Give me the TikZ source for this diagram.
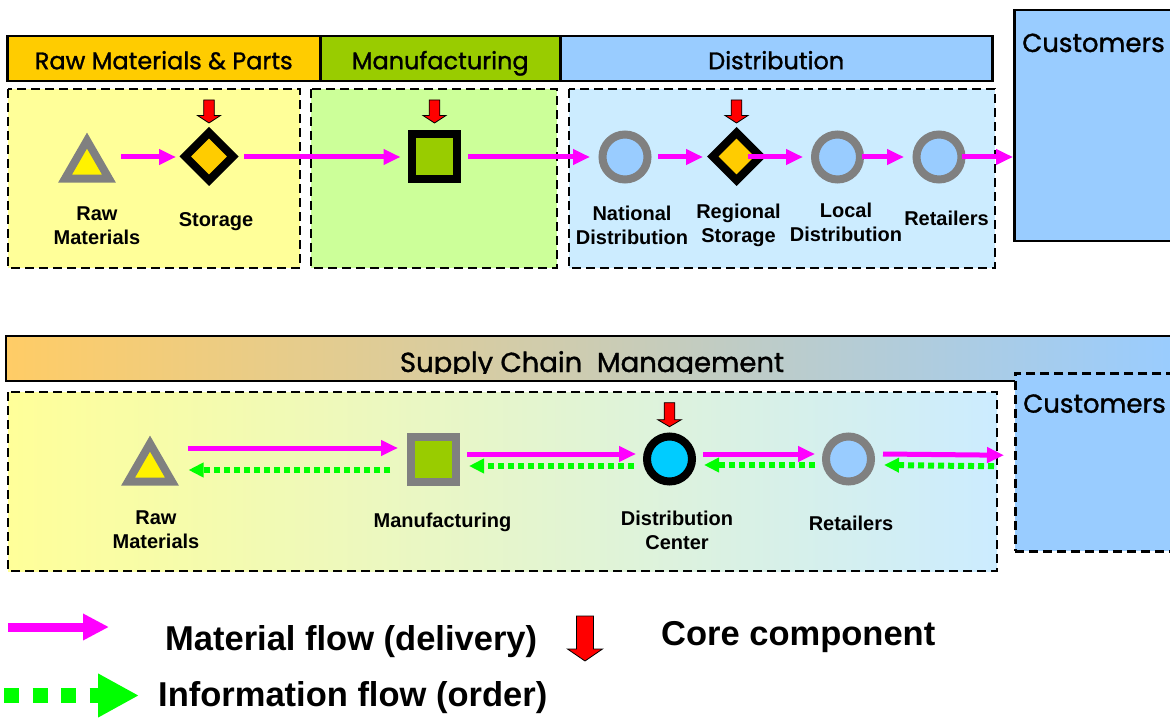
\documentclass[tikz,border=0pt]{standalone}
\usepackage{fontspec}
\setmainfont{Liberation Sans}
\newfontfamily\hdfont[FakeBold=1.2]{Poppins}
\usetikzlibrary{shapes.geometric,arrows.meta,calc}

\definecolor{hdorange}{HTML}{FFCC00}
\definecolor{hdgreen}{HTML}{99CC00}
\definecolor{hdblue}{HTML}{99CCFF}
\definecolor{zoneyellow}{HTML}{FFFF99}
\definecolor{zonegreen}{HTML}{CCFF99}
\definecolor{zoneblue}{HTML}{CCECFF}
\definecolor{scmorange}{HTML}{FFCC66}
\definecolor{matpink}{HTML}{FF00FF}
\definecolor{infogreen}{HTML}{00FF00}
\definecolor{nodegray}{HTML}{808080}
\definecolor{siteblue}{HTML}{99CCFF}
\definecolor{dccyan}{HTML}{00CCFF}

% red "core component" marker, tip at the origin
\tikzset{pics/core/.style n args={4}{code={
  \draw[line width=0.8, fill=red] (-#1,-#4) -- (#1,-#4) -- (#1,-#3) -- (#2,-#3)
    -- (0,0) -- (-#2,-#3) -- (-#1,-#3) -- cycle;}}}

\begin{document}
\begin{tikzpicture}[x=1pt, y=-1pt,
    hdbox/.style={draw, line width=2.5, minimum height=45, inner sep=0,
      text height=21, text depth=0, font=\hdfont\fontsize{24}{28}\selectfont},
    hdtext/.style={inner sep=0, font=\hdfont\fontsize{26}{30}\selectfont},
    zone/.style={draw, line width=2.5, dash pattern=on 9pt off 5pt},
    lbl/.style={font=\bfseries\fontsize{20}{24}\selectfont, align=center, inner sep=0},
    big/.style={font=\bfseries\fontsize{34.5}{40}\selectfont, inner sep=0},
    rawmat/.style={regular polygon, regular polygon sides=3, minimum size=50.8,
      inner sep=0, line width=8, draw=nodegray, fill=yellow},
    depot/.style={diamond, minimum width=51, minimum height=51, inner sep=0,
      line width=8, draw=black, fill=hdorange},
    plant/.style={rectangle, minimum size=45, inner sep=0, line width=8, fill=hdgreen},
    site/.style={circle, minimum size=45, inner sep=0, line width=8},
    mat/.style={draw=matpink, line width=5, -{Triangle[length=17pt,width=15pt]}},
    info/.style={draw=infogreen, line width=6, dash pattern=on 6pt off 4pt,
      -{Triangle[length=15pt,width=14pt]}}]

    \useasboundingbox (0,0) rectangle (1170,719);

    % 1. Top chain: stage headers and customers
    \node[hdbox, fill=hdorange, minimum width=313, anchor=north west] (hd1) at (6,35) {Raw Materials \& Parts};
    \node[hdbox, fill=hdgreen, minimum width=240, anchor=north west] (hd2) at (319,35) {Manufacturing};
    \node[hdbox, fill=hdblue, minimum width=432, anchor=north west] (hd3) at (559,35) {Distribution};
    \node[draw, line width=2.5, fill=hdblue, minimum width=180, minimum height=231,
      inner sep=0, anchor=north west] (cu1) at (1013,9) {};
    \node[hdtext, anchor=base west] (cu1t) at (1022,52) {Customers};

    % 2. Stage zones
    \draw[zone, fill=zoneyellow] (8,89) rectangle (300,268);
    \draw[zone, fill=zonegreen] (311,89) rectangle (557,268);
    \draw[zone, fill=zoneblue] (569,89) rectangle (995,268);

    % 3. Top chain nodes
    \node[rawmat] (rm1) at (87,166) {};
    \node[depot] (st1) at (209,156.5) {};
    \node[plant, draw=black] (mf1) at (434.5,157) {};
    \node[site, draw=nodegray, fill=siteblue] (nd) at (625,157) {};
    \node[depot] (rs) at (736.5,156.5) {};
    \node[site, draw=nodegray, fill=siteblue] (ld) at (837.5,157) {};
    \node[site, draw=nodegray, fill=siteblue] (rt1) at (939,157) {};

    \pic at ($(st1)+(0,-33.5)$) {core={5.3}{11.5}{7.5}{23}};
    \pic at ($(mf1)+(0,-34)$) {core={5.3}{11.5}{7.5}{23}};
    \pic at ($(rs)+(0,-33.5)$) {core={5.3}{11.5}{7.5}{23}};

    \node[lbl] (rm1l) at (97,226) {Raw\\Materials};
    \node[lbl] (st1l) at (216,222) {Storage};
    \node[lbl] (ndl) at (632,225) {National\\Distribution};
    \node[lbl] (rsl) at (738.5,225) {Regional\\Storage};
    \node[lbl] (ldl) at (846,222) {Local\\Distribution};
    \node[lbl] (rt1l) at (946.5,218) {Retailers};

    % 4. Material flow, top chain
    \draw[mat] ($(rm1)+(34,-9)$) -- ($(st1)+(-33,0.5)$);
    \draw[mat] ($(st1)+(35,0.5)$) -- ($(mf1)+(-34,0)$);
    \draw[mat] ($(mf1)+(33.5,0)$) -- ($(nd)+(-35,0)$);
    \draw[mat] ($(nd)+(33,0)$) -- ($(rs)+(-33.5,0.5)$);
    \draw[mat] ($(rs)+(11.5,0.5)$) -- ($(ld)+(-34.5,0)$);
    \draw[mat] ($(ld)+(24.5,0)$) -- ($(rt1)+(-35,0)$);
    \draw[mat] ($(rt1)+(23,0)$) -- (cu1.west |- rt1);

    % 5. Supply chain management band
    \shadedraw[line width=2.5, left color=scmorange, right color=hdblue] (6,336) rectangle (1180,381);
    \begin{scope}
      \clip (6,336) rectangle (1180,373);
      \node[hdtext, font=\hdfont\fontsize{27.5}{30}\selectfont, anchor=base] (scm) at (592,372) {Supply Chain\ \ Management};
    \end{scope}
    \shadedraw[zone, left color=zoneyellow, right color=zoneblue] (8,392) rectangle (997,571);
    \node[zone, fill=hdblue, minimum width=180, minimum height=178, inner sep=0,
      anchor=north west] (cu2) at (1014,372) {};
    \node[hdtext, anchor=base west] (cu2t) at (1023,412.7) {Customers};

    % 6. Bottom chain nodes
    \node[rawmat] (rm2) at (150,469) {};
    \node[plant, draw=nodegray] (mf2) at (433,459.5) {};
    \node[site, draw=black, fill=dccyan] (dc) at (669.5,459) {};
    \node[site, draw=nodegray, fill=siteblue] (rt2) at (848.5,459) {};
    \pic at ($(dc)+(0,-32.3)$) {core={5.3}{11.8}{7}{24}};

    \node[lbl] (rm2l) at (156,530) {Raw\\Materials};
    \node[lbl] (mf2l) at (442.5,522) {Manufacturing};
    \node[lbl] (dcl) at (677,530.5) {Distribution\\Center};
    \node[lbl] (rt2l) at (851,523) {Retailers};

    % 7. Material and information flow, bottom chain
    \draw[mat] ($(rm2)+(38,-21)$) -- ($(mf2)+(-35,-11.5)$);
    \draw[info] ($(mf2)+(-43,10.5)$) -- ($(rm2)+(38.5,1)$);
    \draw[mat] ($(mf2)+(34,-5.5)$) -- ($(dc)+(-33.5,-5)$);
    \draw[info] ($(dc)+(-35.5,7)$) -- ($(mf2)+(36,6.5)$);
    \draw[mat] ($(dc)+(33.5,-5)$) -- ($(rt2)+(-33.5,-5)$);
    \draw[info] ($(rt2)+(-33.5,6)$) -- ($(dc)+(34.5,6)$);
    \draw[mat] ($(rt2)+(34.5,-5)$) -- ($(cu2.west)+(-10,-7)$);
    \draw[info] ($(cu2.west)+(-20,4)$) -- ($(rt2)+(35.5,6)$);

    % 8. Legend
    \coordinate (m0) at (8,627);
    \coordinate (m1) at (109,627);
    \draw[mat, line width=9, -{Triangle[length=26pt,width=25pt]}] (m0) -- (m1);
    \node[big, anchor=base west] (matl) at (165,650.5) {Material flow (delivery)};
    \pic at (585,661) {core={8.5}{17.5}{12}{45}};
    \node[big, anchor=base west] (corel) at (661,645.7) {Core component};
    \coordinate (i0) at (4,695.5);
    \coordinate (i1) at (139,695.5);
    \draw[info, line width=15, dash pattern=on 15pt off 13.5pt,
      -{Triangle[length=41pt,width=41pt]}] (i0) -- (i1);
    \node[big, anchor=base west] (infol) at (158,706) {Information flow (order)};

\end{tikzpicture}
\end{document}
